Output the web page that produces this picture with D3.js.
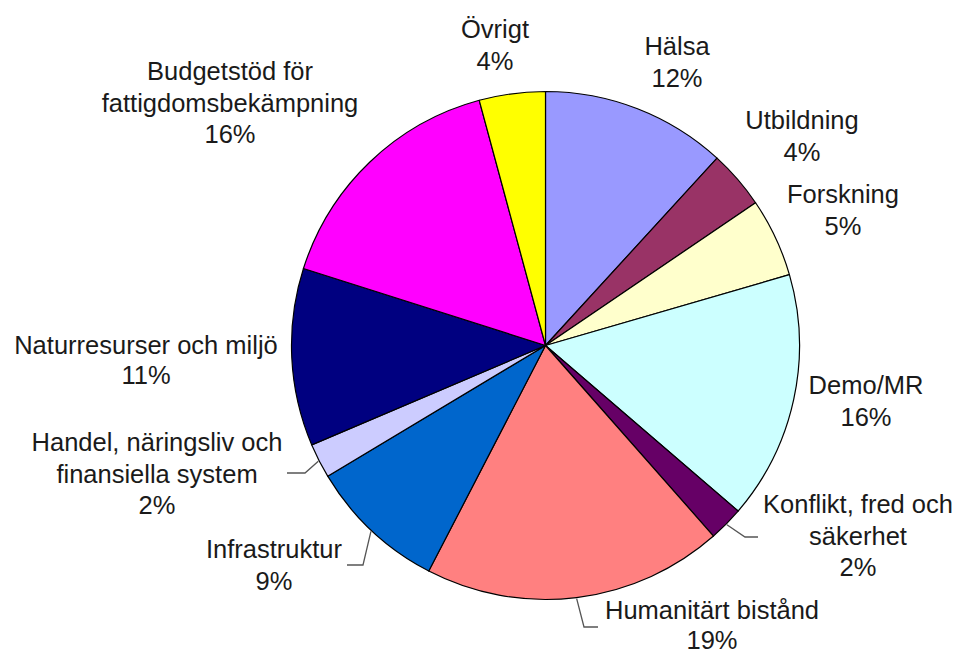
<!DOCTYPE html>
<html>
<head>
<meta charset="utf-8">
<script src="https://cdn.jsdelivr.net/npm/d3@7"></script>
<style>
  html, body { margin: 0; padding: 0; background: #fff; }
  svg { display: block; }
  .lbl { font-family: "Liberation Sans", Arial, sans-serif; font-size: 25.5px; fill: #1a1a1a; }
</style>
</head>
<body>
<div id="chart"></div>
<script>
// Bistånd per sektor (andel i procent), medurs från klockan tolv
const categories = [
  ['Hälsa'],
  ['Utbildning'],
  ['Forskning'],
  ['Demo/MR'],
  ['Konflikt, fred och', 'säkerhet'],
  ['Humanitärt bistånd'],
  ['Infrastruktur'],
  ['Handel, näringsliv och', 'finansiella system'],
  ['Naturresurser och miljö'],
  ['Budgetstöd för', 'fattigdomsbekämpning'],
  ['Övrigt']
];
const values = [11.8, 3.7, 5.0, 15.8, 2.2, 19.1, 8.8, 2.2, 11.3, 15.9, 4.2];
const colors = ['#9999ff', '#993366', '#ffffcc', '#ccffff', '#660066', '#ff8080',
                '#0066cc', '#ccccff', '#000080', '#ff00ff', '#ffff00'];

// label layout: centre x, first baseline y, line gap; optional leader (elbow + end x)
const labelLayout = [
  { x: 677, y: 55 },
  { x: 802, y: 129 },
  { x: 843, y: 203 },
  { x: 866, y: 394 },
  { x: 858, y: 513, elbow: [745, 537], endX: 758 },
  { x: 712, y: 619, gap: 30, elbow: [584, 627], endX: 598 },
  { x: 274, y: 558, elbow: [363, 565], endX: 347 },
  { x: 157, y: 451, elbow: [305, 473], endX: 287 },
  { x: 146, y: 354, gap: 30 },
  { x: 230, y: 80 },
  { x: 495, y: 38 }
];

const width = 957, height = 654;
const cx = 545.5, cy = 345.5, radius = 254;
const lineHeight = 31.5;

const svg = d3.select('#chart').append('svg')
  .attr('width', width)
  .attr('height', height);

const pie = d3.pie().sort(null).value(d => d);
const arcs = pie(values);

const arc = d3.arc().innerRadius(0).outerRadius(radius);
const edgeArc = d3.arc().innerRadius(radius + 1).outerRadius(radius + 1);

const g = svg.append('g').attr('transform', `translate(${cx},${cy})`);

g.selectAll('path.slice')
  .data(arcs)
  .join('path')
  .attr('class', 'slice')
  .attr('d', arc)
  .attr('fill', (d, i) => colors[i])
  .attr('stroke', '#000')
  .attr('stroke-width', 1.2)
  .attr('stroke-linejoin', 'round');

// leader lines
svg.append('g').selectAll('path.leader')
  .data(arcs.filter((d, i) => labelLayout[i].elbow))
  .join('path')
  .attr('class', 'leader')
  .attr('fill', 'none')
  .attr('stroke', '#555')
  .attr('stroke-width', 1.3)
  .attr('d', d => {
    const L = labelLayout[d.index];
    const [ex, ey] = edgeArc.centroid(d);
    return d3.line()([[cx + ex, cy + ey], L.elbow, [L.endX, L.elbow[1]]]);
  });

// labels
const labels = svg.append('g').selectAll('text')
  .data(arcs)
  .join('text')
  .attr('class', 'lbl')
  .attr('text-anchor', 'middle')
  .attr('x', d => labelLayout[d.index].x)
  .attr('y', d => labelLayout[d.index].y);

labels.each(function(d) {
  const L = labelLayout[d.index];
  const gap = L.gap || lineHeight;
  const lines = categories[d.index].concat([Math.round(d.value) + '%']);
  d3.select(this).selectAll('tspan')
    .data(lines)
    .join('tspan')
    .attr('x', L.x)
    .attr('y', (t, j) => L.y + j * gap)
    .text(t => t);
});
</script>
</body>
</html>
